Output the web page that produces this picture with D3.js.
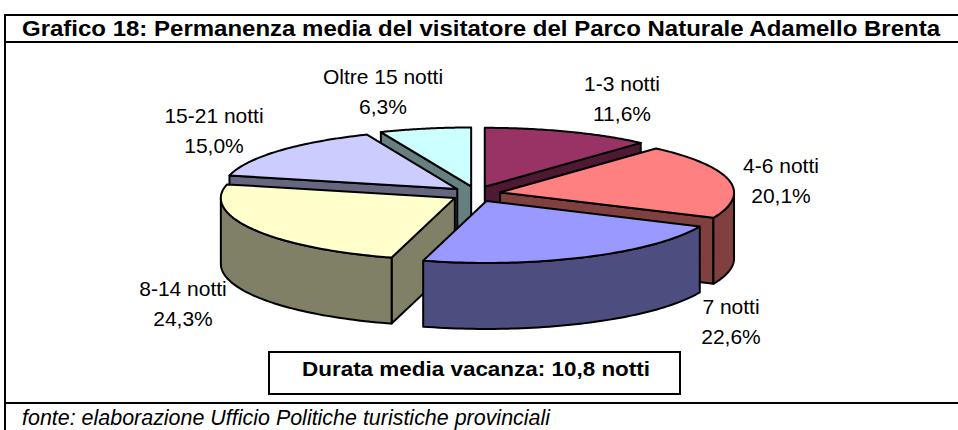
<!DOCTYPE html>
<html>
<head>
<meta charset="utf-8">
<style>
  body { margin: 0; background: #fff; }
  svg { display: block; }
  text { font-family: "Liberation Sans", Arial, sans-serif; fill: #000; }
</style>
<script src="https://cdn.jsdelivr.net/npm/d3@7/dist/d3.min.js"></script>
</head>
<body>
<svg id="pie" width="958" height="430"></svg>
<script>
var categories = ["1-3 notti", "4-6 notti", "7 notti", "8-14 notti", "15-21 notti", "Oltre 15 notti"];
var values = [11.6, 20.1, 22.6, 24.3, 15.0, 6.3];
var topColors = ["#993366", "#ff8080", "#9999ff", "#ffffcc", "#ccccff", "#ccffff"];
var sideColors = ["#4d1933", "#804040", "#4d4d80", "#808066", "#666680", "#668080"];
var labelX = [622, 781, 731, 183, 214, 383];
var labelY = [91, 173, 314, 296, 123, 84];

var title = "Grafico 18: Permanenza media del visitatore del Parco Naturale Adamello Brenta";
var note = "Durata media vacanza: 10,8 notti";
var source = "fonte: elaborazione Ufficio Politiche turistiche provinciali";

var svg = d3.select("#pie");

// pie geometry: flattened ellipse with a fixed extrusion, front half a bit
// larger because the original has some perspective
var cx = 476, cy = 194, rx = 234, ryBack = 59, ryFront = 62, depth = 66;
var explodeX = 0.105, explodeY = 0.13;

function drawFrame() {
  svg.append("rect")
    .attr("x", 5).attr("y", 15)
    .attr("width", 960).attr("height", 440)
    .attr("fill", "#fff").attr("stroke", "#000").attr("stroke-width", 2);
  svg.append("line")
    .attr("x1", 5).attr("x2", 958).attr("y1", 42).attr("y2", 42)
    .attr("stroke", "#000").attr("stroke-width", 2);
  svg.append("line")
    .attr("x1", 5).attr("x2", 958).attr("y1", 403).attr("y2", 403)
    .attr("stroke", "#000").attr("stroke-width", 2);

  svg.append("text")
    .attr("x", 22).attr("y", 36)
    .attr("font-size", 21.5).attr("font-weight", "bold")
    .attr("textLength", 918).attr("lengthAdjust", "spacingAndGlyphs")
    .text(title);
  svg.append("text")
    .attr("x", 22).attr("y", 425)
    .attr("font-size", 21.5).attr("font-style", "italic")
    .attr("textLength", 528).attr("lengthAdjust", "spacingAndGlyphs")
    .text(source);
}

function drawSlices() {
  var arcs = d3.pie().sort(null).value(d => d)(values);
  var line = d3.line();

  // back slices first so the front ones cover them
  var order = arcs.map((a, i) => ({ arc: a, i: i }))
    .sort((a, b) => Math.cos(midAngle(b.arc)) - Math.cos(midAngle(a.arc)));

  order.forEach(function(d) {
    var a0 = d.arc.startAngle, a1 = d.arc.endAngle, mid = midAngle(d.arc);
    var ox = cx + explodeX * rx * Math.sin(mid);
    var oy = cy - explodeY * ryBack * Math.cos(mid);
    var g = svg.append("g").attr("class", "slice");

    function point(angle, drop) {
      var c = Math.cos(angle);
      return [ox + rx * Math.sin(angle), oy - (c < 0 ? ryFront : ryBack) * c + (drop || 0)];
    }
    function arcPoints(from, to, drop) {
      return d3.range(0, 61).map(k => point(from + (to - from) * k / 60, drop));
    }
    function side(points) {
      g.append("path")
        .attr("d", line(points) + "Z")
        .attr("fill", sideColors[d.i])
        .attr("stroke", "#000").attr("stroke-width", 2)
        .attr("stroke-linejoin", "round");
    }

    // cut faces, only when they look towards the viewer
    if (Math.cos(a0 - Math.PI / 2) < 0) {
      side([[ox, oy], point(a0), point(a0, depth), [ox, oy + depth]]);
    }
    if (Math.cos(a1 + Math.PI / 2) < 0) {
      side([[ox, oy], point(a1), point(a1, depth), [ox, oy + depth]]);
    }

    // outer wall, front half of the ellipse only
    var w0 = Math.max(a0, Math.PI / 2), w1 = Math.min(a1, 3 * Math.PI / 2);
    if (w1 > w0) {
      side(arcPoints(w0, w1).concat(arcPoints(w1, w0, depth)));
    }

    g.append("path")
      .attr("d", line([[ox, oy]].concat(arcPoints(a0, a1))) + "Z")
      .attr("fill", topColors[d.i])
      .attr("stroke", "#000").attr("stroke-width", 2)
      .attr("stroke-linejoin", "round");
  });
}

function midAngle(a) {
  return (a.startAngle + a.endAngle) / 2;
}

function drawLabels() {
  var fmt = v => v.toFixed(1).replace(".", ",") + "%";
  var labels = svg.append("g").attr("text-anchor", "middle").attr("font-size", 21);
  categories.forEach(function(c, i) {
    labels.append("text").attr("x", labelX[i]).attr("y", labelY[i]).text(c);
    labels.append("text").attr("x", labelX[i]).attr("y", labelY[i] + 30).text(fmt(values[i]));
  });
}

function drawNote() {
  svg.append("rect")
    .attr("x", 269).attr("y", 352)
    .attr("width", 411).attr("height", 42)
    .attr("fill", "#fff").attr("stroke", "#000").attr("stroke-width", 2);
  svg.append("text")
    .attr("x", 302).attr("y", 376)
    .attr("font-size", 21).attr("font-weight", "bold")
    .attr("textLength", 348).attr("lengthAdjust", "spacingAndGlyphs")
    .text(note);
}

drawFrame();
drawSlices();
drawLabels();
drawNote();
</script>
</body>
</html>
